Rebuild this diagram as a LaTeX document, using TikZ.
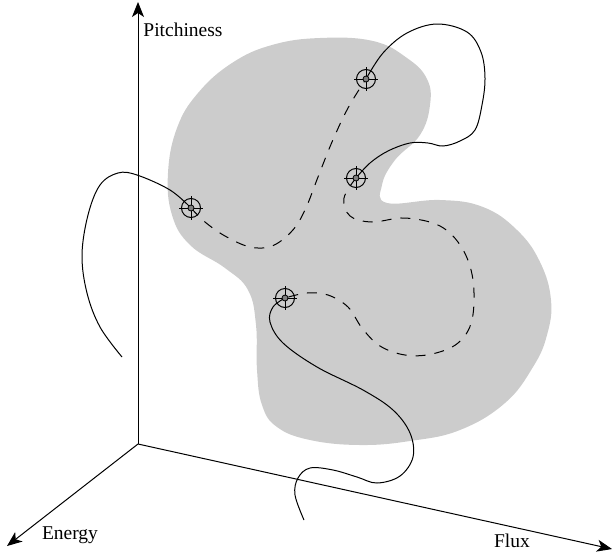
\documentclass[tikz,border=0pt]{standalone}
\usepackage{fontspec}
\setmainfont{Liberation Serif}
\usetikzlibrary{arrows.meta, positioning}
\definecolor{blobgray}{gray}{0.8}

\begin{document}
\begin{tikzpicture}[
        x=1pt, y=-1pt,
        axis/.style={line width=1pt, -{Stealth[length=15pt, width=12pt, inset=4pt]}},
        axislabel/.style={font=\fontsize{19.5}{22}\selectfont, inner sep=0pt},
        target/.style={circle, draw, line width=1pt, minimum size=19pt, inner sep=0pt},
        trail/.style={line width=1pt, dash pattern=on 10pt off 9pt},
        wire/.style={line width=1pt},
    ]
    \useasboundingbox (0,0) rectangle (613,552);

    % feature region
    \fill[blobgray] plot[smooth cycle, tension=0.7] coordinates {
        (320,38) (373,41) (407,58) (427,79) (430,105) (420,135) (395,160)
        (382,185) (387,203) (440,200) (483,207) (517,230) (540,262)
        (551,300) (547,335) (533,367) (505,403) (460,430) (410,441)
        (360,445) (310,440) (277,427) (262,405) (257,370) (256,325)
        (248,290) (225,268) (190,245) (172,215) (168,173) (177,128)
        (198,93) (232,63) (272,45)};

    % axes
    \coordinate (origin) at (138,444);
    \coordinate (ptip) at (138,2);
    \coordinate (etip) at (7,546);
    \coordinate (ftip) at (612,549);
    \draw[axis] (origin) -- (ptip);
    \draw[axis] (origin) -- (etip);
    \draw[axis] (origin) -- (ftip);
    \node[axislabel] (pitch) at (183,30) {Pitchiness};
    \node[axislabel] (energy) at (70,535) {Energy};
    \node[axislabel] (flux) at (512,541) {Flux};

    % tracked points
    \node[target] (m1) at (191,208) {};
    \node[target] (m2) at (366,79) {};
    \node[target] (m3) at (356,178) {};
    \node[target] (m4) at (285,298) {};

    % trajectories
    \draw[wire] plot[smooth, tension=0.6] coordinates {(m1.center) (170,190)
        (137,175) (118,173) (100,185) (88,215) (82,255) (87,293) (100,327)
        (122,357)};
    \draw[wire] plot[smooth, tension=0.6] coordinates {(m2.center) (383,53)
        (407,33) (437,24) (467,32) (481,52) (485,78) (482,105) (475,130)
        (460,141) (443,146) (428,143) (410,143) (388,151) (370,163)
        (m3.center)};
    \draw[wire] plot[smooth, tension=0.6] coordinates {(m4.center) (273,307)
        (270,322) (283,343) (317,367) (363,390) (393,410) (410,433)
        (413,457) (400,476) (377,483) (357,477) (333,470) (310,468)
        (298,478) (295,495) (304,520)};
    \draw[trail] plot[smooth, tension=0.6] coordinates {(m1.center) (205,222)
        (225,236) (250,247) (272,246) (292,231) (305,210) (318,177)
        (332,142) (348,108) (m2.center)};
    \draw[trail] plot[smooth, tension=0.6] coordinates {(m3.center) (344,198)
        (350,216) (372,222) (405,218) (440,226) (462,248) (473,280)
        (472,320) (458,343) (432,354) (405,355) (380,346) (362,328)
        (348,307) (328,295) (307,293) (m4.center)};

    \foreach \m in {m1,m2,m3,m4} {
        \draw[line width=1pt] (\m.center) ++(-12,0) -- ++(24,0);
        \draw[line width=1pt] (\m.center) ++(0,-12) -- ++(0,24);
        \draw[line width=0.8pt, fill=gray] (\m.center) circle (3);
    }
\end{tikzpicture}
\end{document}
